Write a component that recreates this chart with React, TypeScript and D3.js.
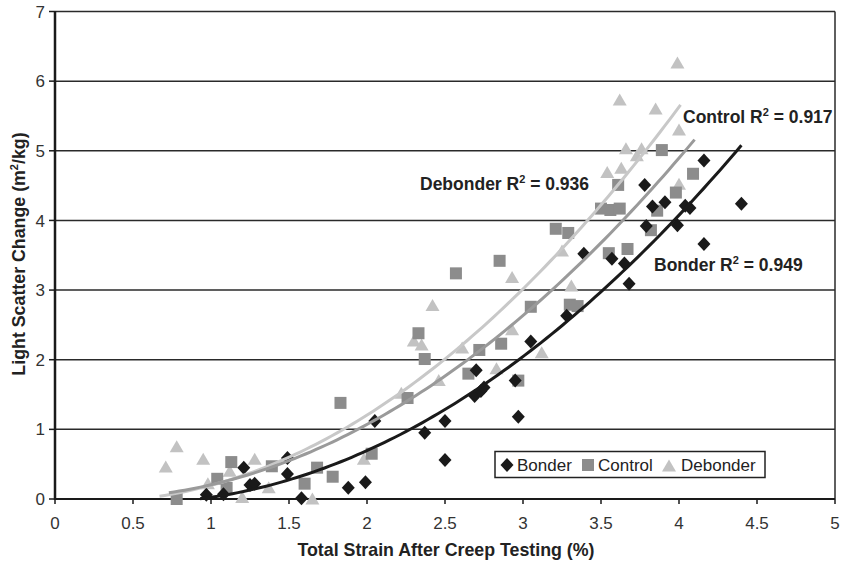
import React from 'react';
import * as d3 from 'd3';

const xTicks = [0, 0.5, 1, 1.5, 2, 2.5, 3, 3.5, 4, 4.5, 5];
const yTicks = [0, 1, 2, 3, 4, 5, 6, 7];
const seriesNames = ['Bonder', 'Control', 'Debonder'];

const bonderPoints: [number, number][] = [
  [0.97, 0.06], [1.08, 0.07], [1.21, 0.45], [1.25, 0.2], [1.28, 0.22], [1.49, 0.59], [1.49, 0.36],
  [1.58, 0.01], [1.88, 0.16], [1.99, 0.24], [2.05, 1.12], [2.37, 0.95], [2.5, 1.12], [2.5, 0.56],
  [2.69, 1.48], [2.73, 1.55], [2.75, 1.6], [2.7, 1.85], [2.95, 1.7], [2.97, 1.18], [3.05, 2.26],
  [3.28, 2.63], [3.39, 3.52], [3.57, 3.45], [3.65, 3.38], [3.68, 3.09], [3.78, 4.51], [3.79, 3.92],
  [3.83, 4.2], [3.91, 4.26], [3.99, 3.93], [4.04, 4.21], [4.07, 4.18], [4.16, 4.86], [4.16, 3.66],
  [4.4, 4.24],
];
const controlPoints: [number, number][] = [
  [0.78, 0.0], [1.04, 0.29], [1.1, 0.16], [1.13, 0.53], [1.39, 0.47], [1.6, 0.22], [1.68, 0.45],
  [1.78, 0.32], [1.83, 1.38], [2.03, 0.65], [2.26, 1.45], [2.33, 2.38], [2.37, 2.01], [2.57, 3.24],
  [2.65, 1.8], [2.72, 2.14], [2.85, 3.42], [2.86, 2.23], [2.97, 1.7], [3.05, 2.76], [3.21, 3.88],
  [3.29, 3.82], [3.3, 2.79], [3.35, 2.77], [3.5, 4.17], [3.55, 3.53], [3.56, 4.15], [3.61, 4.51],
  [3.62, 4.17], [3.67, 3.59], [3.82, 3.86], [3.86, 4.14], [3.89, 5.01], [3.98, 4.4], [4.09, 4.67],
];
const debonderPoints: [number, number][] = [
  [0.71, 0.46], [0.78, 0.75], [0.95, 0.57], [0.98, 0.22], [1.12, 0.4], [1.2, 0.02], [1.28, 0.57],
  [1.37, 0.16], [1.65, 0.0], [1.98, 0.57], [2.22, 1.52], [2.3, 2.27], [2.35, 2.21], [2.42, 2.78],
  [2.46, 1.7], [2.61, 2.17], [2.83, 1.87], [2.93, 3.18], [2.93, 2.43], [3.12, 2.1], [3.25, 3.56],
  [3.31, 3.06], [3.54, 4.69], [3.62, 5.73], [3.63, 4.75], [3.66, 5.03], [3.73, 4.93], [3.76, 5.03],
  [3.85, 5.6], [3.99, 6.26], [4.0, 5.3], [4.0, 4.52],
];

// polynomial trendline coefficients [a, b, c] : y = a x^2 + b x + c
const bonderFit = [0.3399, -0.349, 0.0334];
const controlFit = [0.3488, -0.1802, 0.0356];
const debonderFit = [0.4012, -0.195, -0.0101];
const bonderFitRange = [0.93, 4.4];
const controlFitRange = [0.73, 4.1];
const debonderFitRange = [0.67, 4.01];
const r2Values = ['0.949', '0.917', '0.936'];

const W = 842;
const H = 561;
const x0 = 55, x1 = 835, y0 = 499, y1 = 11.5;
const FONT = "'Liberation Sans', Arial, Helvetica, sans-serif";
const NARROW = "'Liberation Sans Narrow', 'Arial Narrow', 'Liberation Sans', sans-serif";

const colors = { Bonder: '#1a1a1a', Control: '#8c8c8c', Debonder: '#c2c2c2' };
const lineColors = { Bonder: '#1a1a1a', Control: '#9a9a9a', Debonder: '#c8c8c8' };

const diamond = 'M0,-7L6.5,0L0,7L-6.5,0Z';
const triangle = 'M0,-6.5L7,5.5L-7,5.5Z';

export default function App() {
  const x = d3.scaleLinear().domain([0, 5]).range([x0, x1]);
  const y = d3.scaleLinear().domain([0, 7]).range([y0, y1]);
  const line = d3.line<number[]>().x(d => x(d[0])).y(d => y(d[1]));
  const fitPath = (c: number[], r: number[]) => {
    const pts = d3.range(0, 101).map(i => {
      const xv = r[0] + (r[1] - r[0]) * i / 100;
      return [xv, c[0] * xv * xv + c[1] * xv + c[2]];
    });
    return line(pts) || '';
  };

  const marker = (name: string, p: [number, number], i: number) => {
    const cx = x(p[0]), cy = y(p[1]);
    if (name === 'Bonder') return <path key={i} d={diamond} transform={`translate(${cx},${cy})`} fill={colors.Bonder} />;
    if (name === 'Control') return <rect key={i} x={cx - 6} y={cy - 6} width={12} height={12} fill={colors.Control} />;
    return <path key={i} d={triangle} transform={`translate(${cx},${cy})`} fill={colors.Debonder} />;
  };

  const label = (name: string, val: string, lx: number, ly: number) => (
    <text x={lx} y={ly} fontFamily={FONT} fontWeight="bold" fontSize={17.5} fill="#222">
      {name} R<tspan dy={-7} fontSize={11}>2</tspan><tspan dy={7}> = {val}</tspan>
    </text>
  );

  return (
    <svg width={W} height={H} style={{ position: 'absolute', left: 0, top: 0, background: '#fff' }}>
      <rect x={0} y={0} width={W} height={H} fill="#fff" />
      {/* gridlines */}
      {yTicks.filter(t => t > 0).map(t => (
        <line key={t} x1={x0} x2={x1} y1={y(t)} y2={y(t)} stroke="#2a2a2a" strokeWidth={1.5} />
      ))}
      <line x1={x1} x2={x1} y1={y1} y2={y0} stroke="#2a2a2a" strokeWidth={1.5} />
      {/* axes */}
      <line x1={x0} x2={x0} y1={y1 - 0.5} y2={y0 + 1} stroke="#1a1a1a" strokeWidth={2.5} />
      <line x1={x0} x2={x1} y1={y0} y2={y0} stroke="#1a1a1a" strokeWidth={2} />
      {yTicks.map(t => (
        <g key={t}>
          <line x1={x0 - 6} x2={x0} y1={y(t)} y2={y(t)} stroke="#1a1a1a" strokeWidth={1.5} />
          <text x={45} y={y(t)} dy="0.36em" textAnchor="end" fontFamily={NARROW} fontSize={17} fill="#333">{t}</text>
        </g>
      ))}
      {xTicks.map(t => (
        <g key={t}>
          <line x1={x(t)} x2={x(t)} y1={y0} y2={y0 + 5} stroke="#1a1a1a" strokeWidth={1.5} />
          <text x={x(t)} y={529} textAnchor="middle" fontFamily={NARROW} fontSize={17} fill="#333">{t}</text>
        </g>
      ))}
      {/* markers */}
      {debonderPoints.map((p, i) => marker('Debonder', p, i))}
      {controlPoints.map((p, i) => marker('Control', p, i))}
      {bonderPoints.map((p, i) => marker('Bonder', p, i))}
      {/* trendlines */}
      <path d={fitPath(debonderFit, debonderFitRange)} fill="none" stroke={lineColors.Debonder} strokeWidth={3} />
      <path d={fitPath(controlFit, controlFitRange)} fill="none" stroke={lineColors.Control} strokeWidth={3} />
      <path d={fitPath(bonderFit, bonderFitRange)} fill="none" stroke={lineColors.Bonder} strokeWidth={3} />
      {/* R2 labels */}
      {label('Control', r2Values[1], 683, 123)}
      {label('Debonder', r2Values[2], 420, 190)}
      {label('Bonder', r2Values[0], 654, 271)}
      {/* legend */}
      <rect x={495} y={451.5} width={270} height={26} fill="#fff" stroke="#222" strokeWidth={1.5} />
      <path d={diamond} transform="translate(507,465)" fill={colors.Bonder} />
      <text x={517} y={471} fontFamily={FONT} fontSize={17} fill="#222">{seriesNames[0]}</text>
      <rect x={582} y={459} width={12} height={12} fill={colors.Control} />
      <text x={598} y={471} fontFamily={FONT} fontSize={17} fill="#222">{seriesNames[1]}</text>
      <path d={triangle} transform="translate(669,466)" fill={colors.Debonder} />
      <text x={681} y={471} fontFamily={FONT} fontSize={17} fill="#222">{seriesNames[2]}</text>
      {/* axis titles */}
      <text x={446} y={556} textAnchor="middle" fontFamily={FONT} fontWeight="bold" fontSize={17.8} fill="#222">Total Strain After Creep Testing (%)</text>
      <text transform="translate(25,254) rotate(-90)" textAnchor="middle" fontFamily={FONT} fontWeight="bold" fontSize={17.8} fill="#222">
        Light Scatter Change (m<tspan dy={-7} fontSize={11}>2</tspan><tspan dy={7}>/kg)</tspan>
      </text>
    </svg>
  );
}
